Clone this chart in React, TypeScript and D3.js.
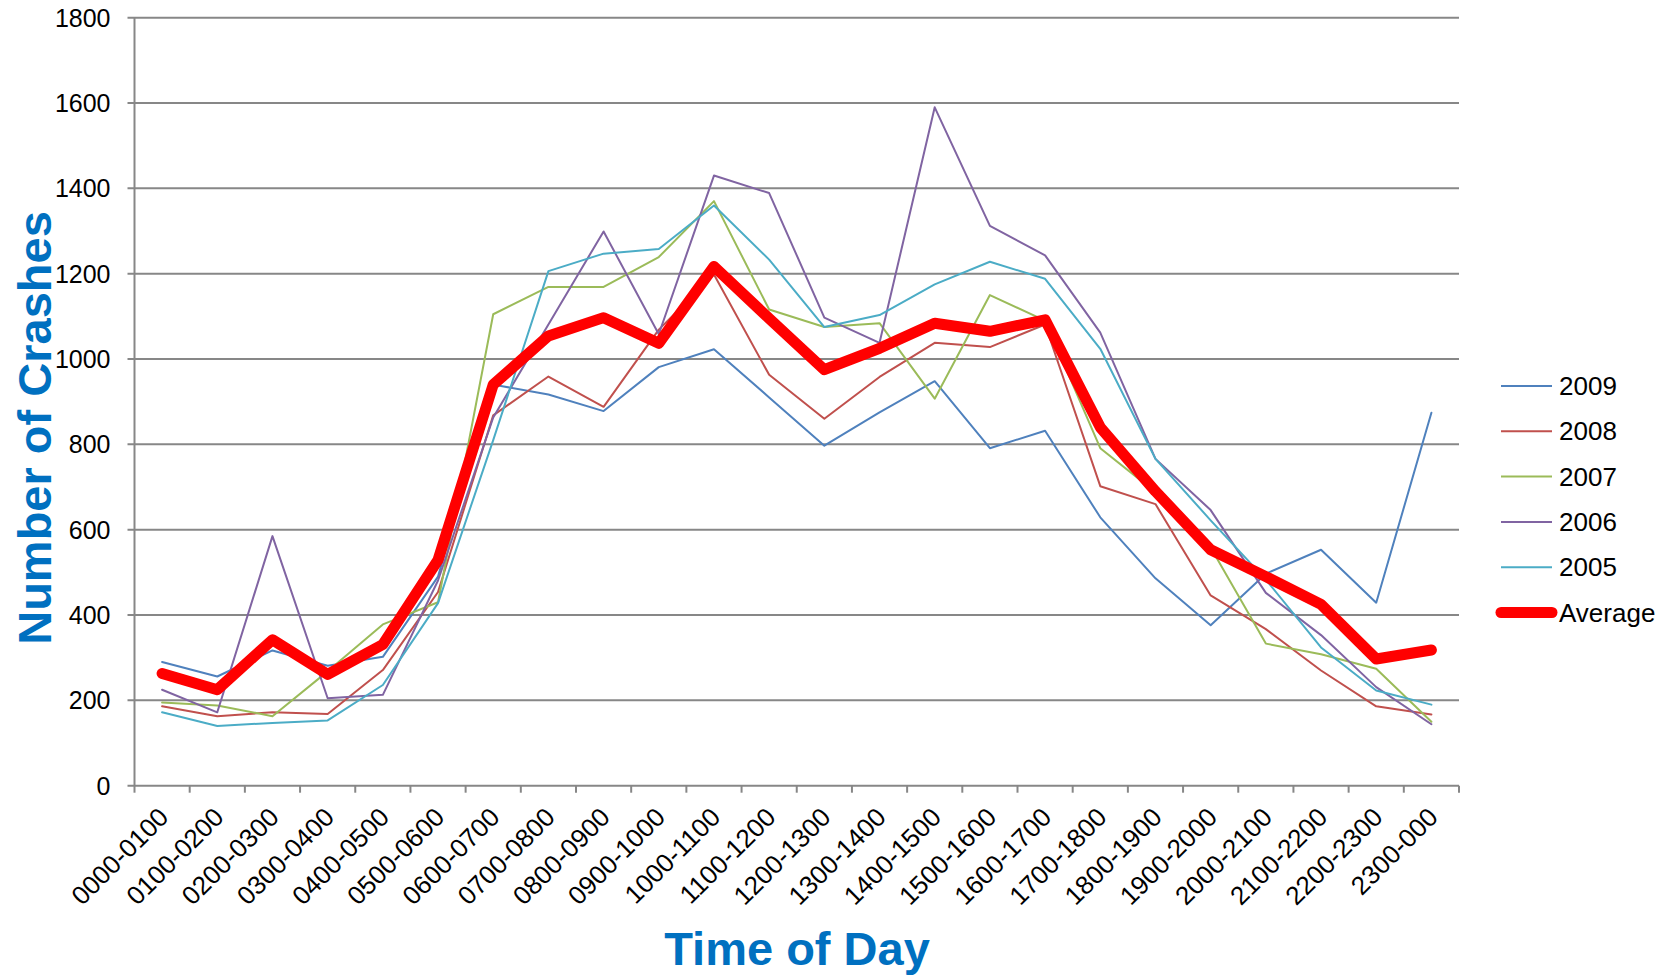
import * as d3 from "d3";

const categories = [
  "0000-0100", "0100-0200", "0200-0300", "0300-0400", "0400-0500", "0500-0600",
  "0600-0700", "0700-0800", "0800-0900", "0900-1000", "1000-1100", "1100-1200",
  "1200-1300", "1300-1400", "1400-1500", "1500-1600", "1600-1700", "1700-1800",
  "1800-1900", "1900-2000", "2000-2100", "2100-2200", "2200-2300", "2300-000",
];

const y2009 = [290, 256, 317, 281, 302, 490, 940, 917, 878, 981, 1023, 910, 797, 875, 948, 791, 832, 629, 486, 376, 497, 553, 429, 874];
const y2008 = [186, 163, 172, 168, 271, 454, 868, 959, 888, 1069, 1198, 963, 860, 958, 1038, 1028, 1081, 702, 660, 446, 367, 270, 186, 167];
const y2007 = [195, 188, 163, 268, 378, 430, 1105, 1169, 1169, 1239, 1370, 1116, 1075, 1084, 907, 1150, 1090, 791, 688, 558, 333, 308, 274, 150];
const y2006 = [225, 172, 585, 205, 213, 481, 863, 1081, 1299, 1058, 1430, 1389, 1097, 1038, 1590, 1312, 1243, 1062, 766, 646, 452, 353, 231, 144];
const y2005 = [172, 140, 147, 153, 236, 428, 810, 1206, 1247, 1258, 1360, 1233, 1075, 1103, 1175, 1228, 1188, 1024, 766, 622, 483, 324, 223, 190];
const average = [263, 225, 342, 261, 331, 529, 940, 1054, 1097, 1037, 1217, 1095, 975, 1025, 1084, 1065, 1092, 840, 690, 553, 490, 425, 297, 318];

const yTicks = [0, 200, 400, 600, 800, 1000, 1200, 1400, 1600, 1800];

const series = [
  { name: "2009", values: y2009, color: "#4F81BD", width: 2 },
  { name: "2008", values: y2008, color: "#C0504D", width: 2 },
  { name: "2007", values: y2007, color: "#9BBB59", width: 2 },
  { name: "2006", values: y2006, color: "#8064A2", width: 2 },
  { name: "2005", values: y2005, color: "#4BACC6", width: 2 },
  { name: "Average", values: average, color: "#FF0000", width: 11 },
];

const W = 1672;
const H = 979;
const plot = { left: 134.5, right: 1459, top: 17.7, bottom: 785.7 };
const FONT = "'Liberation Sans', Arial, sans-serif";

export default function App() {
  const x = d3
    .scaleBand()
    .domain(categories)
    .range([plot.left, plot.right]);
  const y = d3.scaleLinear().domain([0, 1800]).range([plot.bottom, plot.top]);

  const line = d3
    .line<number>()
    .x((_, i) => (x(categories[i]) as number) + x.bandwidth() / 2)
    .y((d) => y(d));

  // tick marks sit on category boundaries
  const boundaries = categories.map((c) => x(c) as number).concat([plot.right]);

  return (
    <svg
      width={W}
      height={H}
      style={{ position: "absolute", left: 0, top: 0, background: "#fff" }}
      fontFamily={FONT}
    >
      {/* gridlines + y labels */}
      {yTicks.map((t) => (
        <g key={t}>
          <line
            x1={plot.left - 7}
            x2={plot.right}
            y1={y(t)}
            y2={y(t)}
            stroke="#878787"
            strokeWidth={2}
          />
          <text
            x={plot.left - 24}
            y={y(t)}
            textAnchor="end"
            dominantBaseline="central"
            fontSize={25}
            fill="#000"
          >
            {t}
          </text>
        </g>
      ))}

      {/* y axis */}
      <line
        x1={plot.left}
        x2={plot.left}
        y1={plot.top}
        y2={plot.bottom}
        stroke="#878787"
        strokeWidth={2}
      />

      {/* x ticks */}
      {boundaries.map((b, i) => (
        <line
          key={i}
          x1={b}
          x2={b}
          y1={plot.bottom}
          y2={plot.bottom + 7}
          stroke="#878787"
          strokeWidth={2}
        />
      ))}

      {/* x labels */}
      {categories.map((c) => {
        const cx = (x(c) as number) + x.bandwidth() / 2;
        return (
          <text
            key={c}
            transform={`translate(${cx + 8},${plot.bottom + 33}) rotate(-45)`}
            textAnchor="end"
            fontSize={26}
            fill="#000"
          >
            {c}
          </text>
        );
      })}

      {/* series */}
      {series.map((s) => (
        <path
          key={s.name}
          d={line(s.values) as string}
          fill="none"
          stroke={s.color}
          strokeWidth={s.width}
          strokeLinejoin="round"
          strokeLinecap="round"
        />
      ))}

      {/* legend */}
      {series.map((s, i) => {
        const ly = 386 + i * 45.3;
        return (
          <g key={s.name}>
            <line
              x1={1501}
              x2={1552}
              y1={ly}
              y2={ly}
              stroke={s.color}
              strokeWidth={s.width}
              strokeLinecap={s.width > 5 ? "round" : "butt"}
            />
            <text
              x={1559}
              y={ly}
              dominantBaseline="central"
              fontSize={26}
              fill="#000"
            >
              {s.name}
            </text>
          </g>
        );
      })}

      {/* axis titles */}
      <text
        transform={`translate(51,428) rotate(-90)`}
        textAnchor="middle"
        fontSize={47}
        fontWeight="bold"
        fill="#0070C0"
      >
        Number of Crashes
      </text>
      <text
        x={797}
        y={965}
        textAnchor="middle"
        fontSize={47}
        fontWeight="bold"
        fill="#0070C0"
      >
        Time of Day
      </text>
    </svg>
  );
}
